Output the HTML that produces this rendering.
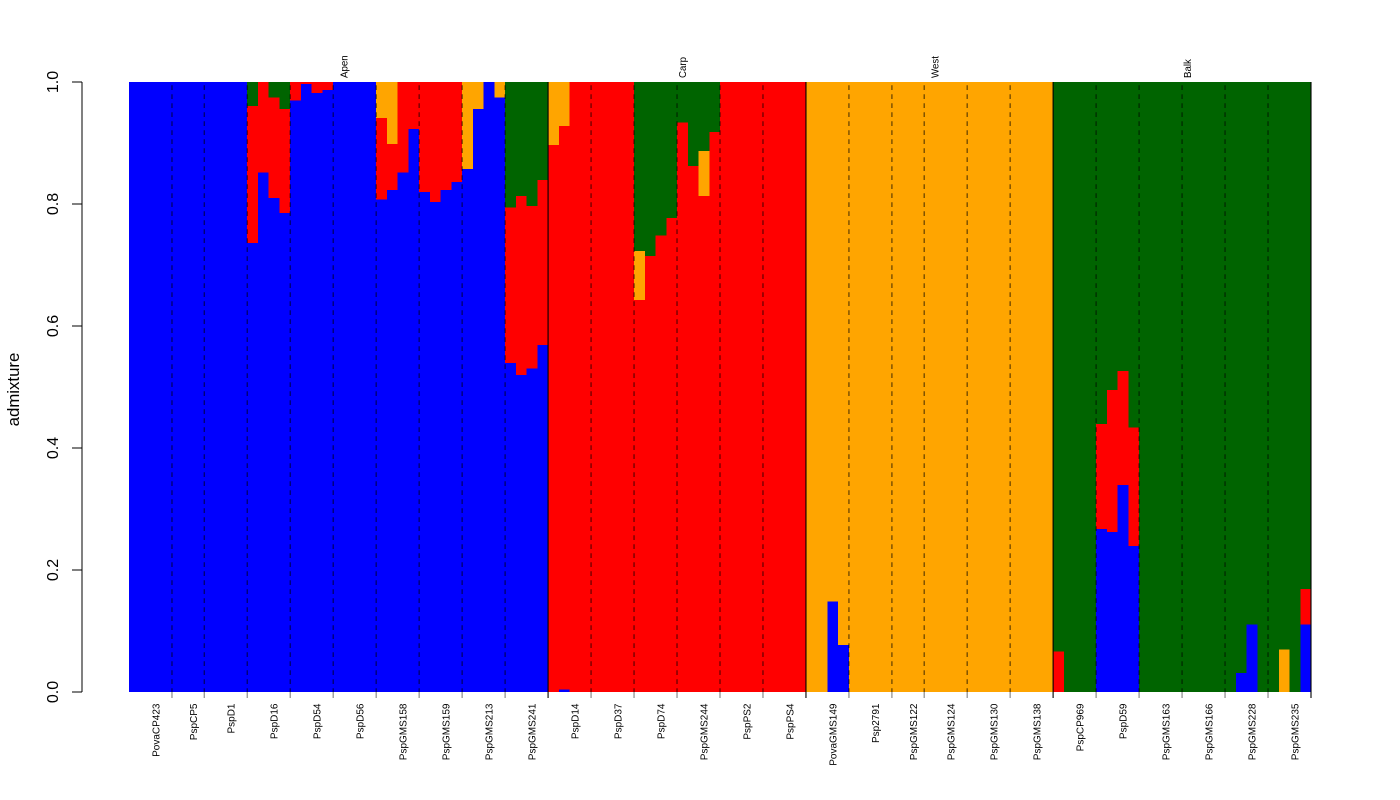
<!DOCTYPE html>
<html>
<head>
<meta charset="utf-8">
<title>Admixture barplot</title>
<style>
html,body{margin:0;padding:0;background:#fff;width:1400px;height:800px;overflow:hidden}
svg{display:block}
text{font-family:"Liberation Sans",sans-serif;fill:#000}
</style>
</head>
<body>
<svg id="chart" xmlns="http://www.w3.org/2000/svg" width="1400" height="800" viewBox="0 0 1400 800"></svg>
<script>
const groupNames = ["Apen", "Carp", "West", "Balk"];
const groupSizes = [39, 24, 23, 24];
const popNames = [
  "PovaCP423","PspCP5","PspD1","PspD16","PspD54","PspD56","PspGMS158","PspGMS159","PspGMS213","PspGMS241",
  "PspD14","PspD37","PspD74","PspGMS244","PspPS2","PspPS4",
  "PovaGMS149","Psp2791","PspGMS122","PspGMS124","PspGMS130","PspGMS138",
  "PspCP969","PspD59","PspGMS163","PspGMS166","PspGMS228","PspGMS235"
];
const popSizes = [4,3,4,4,4,4,4,4,4,4, 4,4,4,4,4,4, 4,4,3,4,4,4, 4,4,4,4,4,4];
const yTicks = [0, 0.2, 0.4, 0.6, 0.8, 1];
const yTickLabels = ["0.0", "0.2", "0.4", "0.6", "0.8", "1.0"];
const seriesNames = ["blue", "red", "orange", "green"];
const seriesColors = ["#0000ff", "#ff0000", "#ffa500", "#006400"];

const blueValues = [
  1,1,1,1, 1,1,1, 1,1,1,1, .736,.852,.81,.785, .97,.997,.982,.987, 1,1,1,1,
  .807,.823,.852,.923, .82,.803,.823,.836, .857,.956,1,.975, .539,.52,.53,.569,
  0,.004,0,0, 0,0,0,0, 0,0,0,0, 0,0,0,0, 0,0,0,0, 0,0,0,0,
  0,0,.148,.077, 0,0,0,0, 0,0,0, 0,0,0,0, 0,0,0,0, 0,0,0,0,
  0,0,0,0, .267,.262,.339,.239, 0,0,0,0, 0,0,0,0, 0,.031,.111,0, 0,0,0,.111
];
const redValues = [
  0,0,0,0, 0,0,0, 0,0,0,0, .225,.148,.165,.171, .03,.003,.018,.013, 0,0,0,0,
  .134,.075,.148,.077, .18,.197,.177,.164, 0,0,0,0, .255,.293,.267,.27,
  .897,.924,1,1, 1,1,1,1, .643,.715,.748,.777, .934,.862,.813,.918, 1,1,1,1, 1,1,1,1,
  0,0,0,0, 0,0,0,0, 0,0,0, 0,0,0,0, 0,0,0,0, 0,0,0,0,
  .066,0,0,0, .172,.233,.187,.195, 0,0,0,0, 0,0,0,0, 0,0,0,0, 0,0,0,.058
];
const orangeValues = [
  0,0,0,0, 0,0,0, 0,0,0,0, 0,0,0,0, 0,0,0,0, 0,0,0,0,
  .059,.102,0,0, 0,0,0,0, .143,.044,0,.025, 0,0,0,0,
  .103,.072,0,0, 0,0,0,0, .08,0,0,0, 0,0,.074,0, 0,0,0,0, 0,0,0,0,
  1,1,.852,.923, 1,1,1,1, 1,1,1, 1,1,1,1, 1,1,1,1, 1,1,1,1,
  0,0,0,0, 0,0,0,0, 0,0,0,0, 0,0,0,0, 0,0,0,0, 0,.07,0,0
];
const greenValues = [
  0,0,0,0, 0,0,0, 0,0,0,0, .039,0,.025,.044, 0,0,0,0, 0,0,0,0,
  0,0,0,0, 0,0,0,0, 0,0,0,0, .206,.187,.203,.161,
  0,0,0,0, 0,0,0,0, .277,.285,.252,.223, .066,.138,.113,.082, 0,0,0,0, 0,0,0,0,
  0,0,0,0, 0,0,0,0, 0,0,0, 0,0,0,0, 0,0,0,0, 0,0,0,0,
  .934,1,1,1, .561,.505,.474,.566, 1,1,1,1, 1,1,1,1, 1,.969,.889,1, 1,.93,1,.831
];

const NS = "http://www.w3.org/2000/svg";
const svg = document.getElementById("chart");
const allSeries = [blueValues, redValues, orangeValues, greenValues];
const barCount = blueValues.length;

const plotLeft = 129, plotRight = 1311, plotBottom = 692, plotTop = 82;
function xScale(i) { return plotLeft + (plotRight - plotLeft) * i / barCount; }
function yScale(v) { return plotBottom - (plotBottom - plotTop) * v; }

function make(tag, attrs) {
  const el = document.createElementNS(NS, tag);
  for (const k in attrs) el.setAttribute(k, attrs[k]);
  svg.appendChild(el);
  return el;
}

// stacked bars
for (let i = 0; i < barCount; i++) {
  let cum = 0;
  for (let s = 0; s < allSeries.length; s++) {
    const v = allSeries[s][i];
    if (v <= 0) continue;
    const left = xScale(i), right = xScale(i + 1);
    const yTop = yScale(cum + v), yBot = yScale(cum);
    const r = make("rect", {x: left, y: yTop, width: right - left, height: yBot - yTop, fill: seriesColors[s], "shape-rendering": "crispEdges"});
    
    
    cum += v;
  }
}

// group boundaries (cumulative bar counts)
const groupEnds = [];
let groupAcc = 0;
groupSizes.forEach(function (n) { groupAcc += n; groupEnds.push(groupAcc); });

// population separators, ticks and labels
let popAcc = 0;
popSizes.forEach(function (n, p) {
  const start = popAcc;
  popAcc += n;
  const bx = xScale(popAcc);
  const isGroupEnd = groupEnds.indexOf(popAcc) >= 0;
  if (isGroupEnd) {
    const sep = make("line", {x1: bx, x2: bx, y1: plotTop, y2: plotBottom + 6, stroke: "#000", "stroke-width": 1.1});
    
    
  } else {
    const dash = make("line", {x1: bx, x2: bx, y1: plotTop + 3.3, y2: plotBottom, stroke: "#000", "stroke-width": 1, "stroke-opacity": 0.75, "stroke-dasharray": "4.7 4.3"});
    
    
    const tick = make("line", {x1: bx, x2: bx, y1: plotBottom, y2: plotBottom + 6, stroke: "#000", "stroke-width": 1, "stroke-opacity": 0.55});
    
    
  }
  const mid = (xScale(start) + bx) / 2 + 8.8;
  const lab = make("text", {transform: "translate(" + mid + ",703.5) rotate(-90)", "font-size": 10, "text-anchor": "end"});
  lab.textContent = popNames[p];
  
  
});

// group labels
let gAcc = 0;
groupSizes.forEach(function (n, g) {
  const gx = (xScale(gAcc) + xScale(gAcc + n)) / 2 + 9;
  gAcc += n;
  const gl = make("text", {transform: "translate(" + gx + ",78) rotate(-90)", "font-size": 9.7, "text-anchor": "start"});
  gl.textContent = groupNames[g];
  
  
});

// y axis
const axisX = 82;
const yLine = make("line", {x1: axisX, x2: axisX, y1: yScale(yTicks[0]), y2: yScale(yTicks[yTicks.length - 1]) , stroke: "#000", "stroke-width": 1, "stroke-opacity": 1});


yTicks.forEach(function (t, i) {
  const ty = yScale(t);
  const tk = make("line", {x1: 72, x2: axisX, y1: ty, y2: ty, stroke: "#000", "stroke-width": 1});
  
  
  const lb = make("text", {transform: "translate(58," + ty + ") rotate(-90)", "font-size": 16, "text-anchor": "middle"});
  lb.textContent = yTickLabels[i];
  
  
});
const yTitle = make("text", {transform: "translate(19,389.5) rotate(-90)", "font-size": 16.8, "text-anchor": "middle"});
yTitle.textContent = "admixture";


</script>
</body>
</html>
